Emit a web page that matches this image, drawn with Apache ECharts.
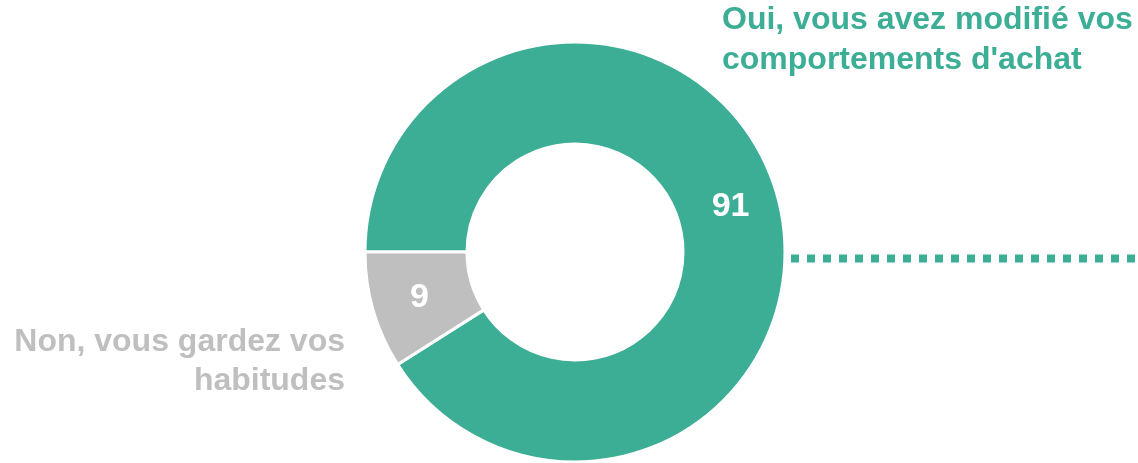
<!DOCTYPE html>
<html>
<head>
<meta charset="utf-8">
<script src="https://cdn.jsdelivr.net/npm/echarts@6/dist/echarts.min.js"></script>
<style>
  html, body { margin: 0; padding: 0; background: #fff; }
  #chart { width: 1138px; height: 463px; }
</style>
</head>
<body>
<div id="chart"></div>
<script>
const categories = ["Oui, vous avez modifié vos\ncomportements d'achat", "Non, vous gardez vos\nhabitudes"];
const values = [91, 9];
const colors = ["#3DAE96", "#BFBFBF"];

const chart = echarts.init(document.getElementById("chart"));
const font = "Liberation Sans, Arial, sans-serif";

chart.setOption({
  animation: false,
  series: [
    {
      type: "pie",
      center: [575, 252],
      radius: [108, 210],
      startAngle: 180,
      clockwise: true,
      silent: true,
      itemStyle: { borderColor: "#fff", borderWidth: 3 },
      label: {
        show: true,
        position: "inside",
        formatter: "{c}",
        color: "#fff",
        fontFamily: font,
        fontWeight: "bold",
        fontSize: 34,
      },
      labelLine: { show: false },
      data: categories.map((name, i) => ({
        name: name,
        value: values[i],
        itemStyle: { color: colors[i] },
      })),
    },
  ],
  graphic: [
    {
      type: "text",
      x: 722,
      y: 0,
      style: {
        text: categories[0],
        fill: colors[0],
        font: "bold 32px " + font,
        lineHeight: 40,
      },
    },
    {
      type: "text",
      x: 345,
      y: 323,
      style: {
        text: categories[1],
        fill: colors[1],
        font: "bold 32px " + font,
        lineHeight: 39,
        align: "right",
      },
    },
    {
      type: "line",
      shape: { x1: 791, y1: 258.5, x2: 1138, y2: 258.5 },
      style: { stroke: colors[0], lineWidth: 8, lineDash: [8, 8] },
    },
  ],
});
</script>
</body>
</html>
